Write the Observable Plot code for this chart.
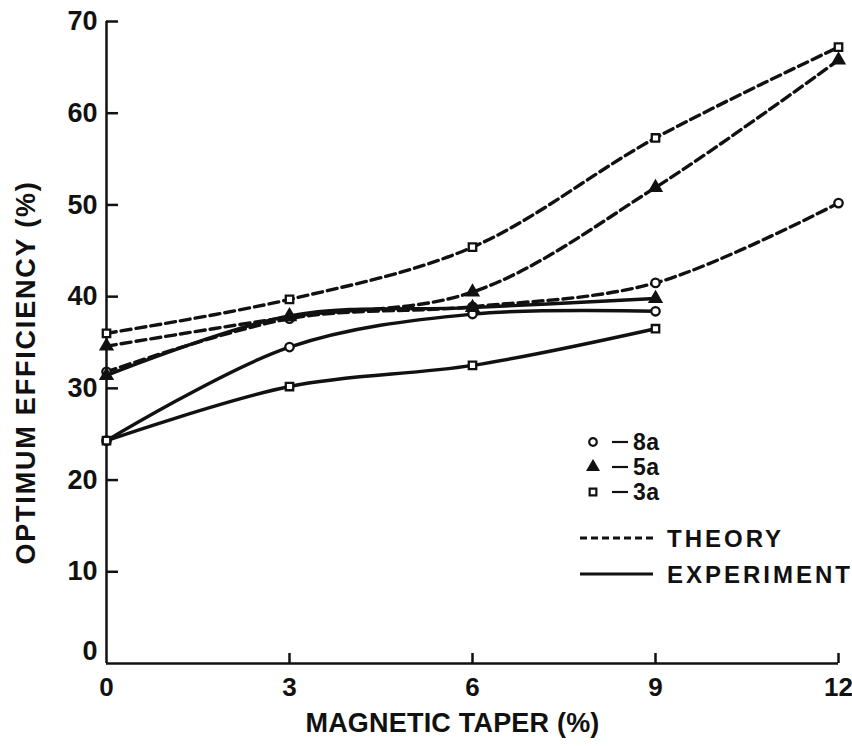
<!DOCTYPE html>
<html><head><meta charset="utf-8">
<script src="https://cdn.jsdelivr.net/npm/d3@7"></script>
<script src="https://cdn.jsdelivr.net/npm/@observablehq/plot@0.6"></script>
<style>
body{margin:0;background:#fff;}
#wrap{position:relative;width:852px;height:746px;}
#legend{position:absolute;left:0;top:0;pointer-events:none;}
</style></head><body><div id="wrap"></div>
<script>
// ---- data ----
const taper = [0, 3, 6, 9, 12];          // theory x values (%)
const taperExp = [0, 3, 6, 9];           // experiment x values (%)
const theory3a = [36.0, 39.7, 45.4, 57.3, 67.2];
const theory5a = [34.6, 37.8, 40.5, 51.9, 65.8];
const theory8a = [31.8, 37.6, 38.9, 41.5, 50.2];
const exp3a = [24.3, 30.2, 32.5, 36.5];
const exp5a = [31.4, 37.9, 38.8, 39.8];
const exp8a = [24.3, 34.5, 38.1, 38.4];
const yTicks = [10, 20, 30, 40, 50, 60, 70];
const yZero = [0];
const xTicks = [0, 3, 6, 9, 12];
const seriesNames = ["8a", "5a", "3a"];
const styleNames = ["THEORY", "EXPERIMENT"];
const xTitle = "MAGNETIC TAPER (%)";
const yTitle = "OPTIMUM EFFICIENCY (%)";

// ---- build tables ----
const theoryRows = [];
[["8a", theory8a], ["5a", theory5a], ["3a", theory3a]].forEach(([s, v]) =>
  v.forEach((e, i) => theoryRows.push({series: s, taper: taper[i], eff: e})));
const expRows = [];
[["8a", exp8a], ["5a", exp5a], ["3a", exp3a]].forEach(([s, v]) =>
  v.forEach((e, i) => expRows.push({series: s, taper: taperExp[i], eff: e})));
const allRows = theoryRows.concat(expRows);

const FONT = "'Liberation Sans', Arial, Helvetica, sans-serif";
const INK = "#111";

const chart = Plot.plot({
  width: 852, height: 746,
  marginLeft: 106, marginRight: 14, marginTop: 21, marginBottom: 83,
  x: {domain: [0, 12], axis: null},
  y: {domain: [0, 70], axis: null},
  symbol: {domain: seriesNames, range: ["circle", "triangle", "square"]},
  style: {fontFamily: FONT, background: "white", color: INK, overflow: "visible"},
  marks: [
    Plot.ruleX([0], {stroke: INK, strokeWidth: 2.5}),
    Plot.ruleY([0], {stroke: INK, strokeWidth: 2.5}),
    Plot.tickY(yTicks, {y: d => d, insetRight: 720, stroke: INK, strokeWidth: 2.5}),
    Plot.tickX(xTicks.slice(1), {x: d => d, insetTop: 632, stroke: INK, strokeWidth: 2.5}),
    Plot.axisY(yTicks, {anchor: "left", tickSize: 0, tickPadding: 9, fontSize: 27, fontWeight: "bold", label: null}),
    Plot.axisY(yZero, {anchor: "left", tickSize: 0, tickPadding: 9, dy: -12, fontSize: 27, fontWeight: "bold", label: null}),
    Plot.axisX(xTicks, {anchor: "bottom", tickSize: 0, tickPadding: 14, fontSize: 26, fontWeight: "bold", label: null}),
    Plot.text([xTitle], {frameAnchor: "bottom", lineAnchor: "middle", dx: -20, dy: 60, fontSize: 27, fontWeight: "bold", fill: INK}),
    Plot.text([yTitle], {frameAnchor: "left", textAnchor: "middle", rotate: -90, dx: -80, dy: 30, fontSize: 27, fontWeight: "bold", fill: INK}),
    Plot.line(theoryRows, {x: "taper", y: "eff", z: "series", curve: "catmull-rom", stroke: INK, strokeWidth: 3.4, strokeDasharray: "10,5"}),
    Plot.line(expRows, {x: "taper", y: "eff", z: "series", curve: "catmull-rom", stroke: INK, strokeWidth: 3.4}),
    Plot.dot(allRows, {x: "taper", y: "eff", symbol: "series", r: 4.2, stroke: INK, strokeWidth: 2.3,
      fill: d => d.series === "5a" ? INK : "white"})
  ]
});

// letter spacing of the two axis titles
d3.select(chart).selectAll("text").each(function() {
  const t = this.textContent;
  if (t === xTitle) this.setAttribute("letter-spacing", "0.2");
  if (t === yTitle) this.setAttribute("letter-spacing", "1.8");
});

const wrap = document.getElementById("wrap");
wrap.appendChild(chart);

// ---- legend overlay (inside the plot area, as in the reference) ----
const lg = d3.select(wrap).append("svg").attr("id", "legend")
  .attr("width", 852).attr("height", 746)
  .style("font-family", FONT).style("font-weight", "bold");
const sym = {"8a": d3.symbolCircle, "5a": d3.symbolTriangle, "3a": d3.symbolSquare};
seriesNames.forEach((s, i) => {
  const y = 442 + i * 25;
  lg.append("path").attr("d", d3.symbol(sym[s], 45)())
    .attr("transform", `translate(593,${y})`)
    .attr("fill", s === "5a" ? INK : "white").attr("stroke", INK).attr("stroke-width", 2.2);
  lg.append("line").attr("x1", 612).attr("x2", 628).attr("y1", y).attr("y2", y)
    .attr("stroke", INK).attr("stroke-width", 2.2);
  lg.append("text").attr("x", 633).attr("y", y).attr("dy", "0.36em")
    .attr("font-size", 23).attr("letter-spacing", 0.5).attr("fill", INK).text(s);
});
styleNames.forEach((s, i) => {
  const y = 538 + i * 36;
  lg.append("line").attr("x1", 580).attr("x2", 653).attr("y1", y).attr("y2", y)
    .attr("stroke", INK).attr("stroke-width", 3)
    .attr("stroke-dasharray", i === 0 ? "7,4" : null);
  lg.append("text").attr("x", 667).attr("y", y).attr("dy", "0.36em")
    .attr("font-size", 24).attr("letter-spacing", 3).attr("fill", INK).text(s);
});
</script></body></html>
